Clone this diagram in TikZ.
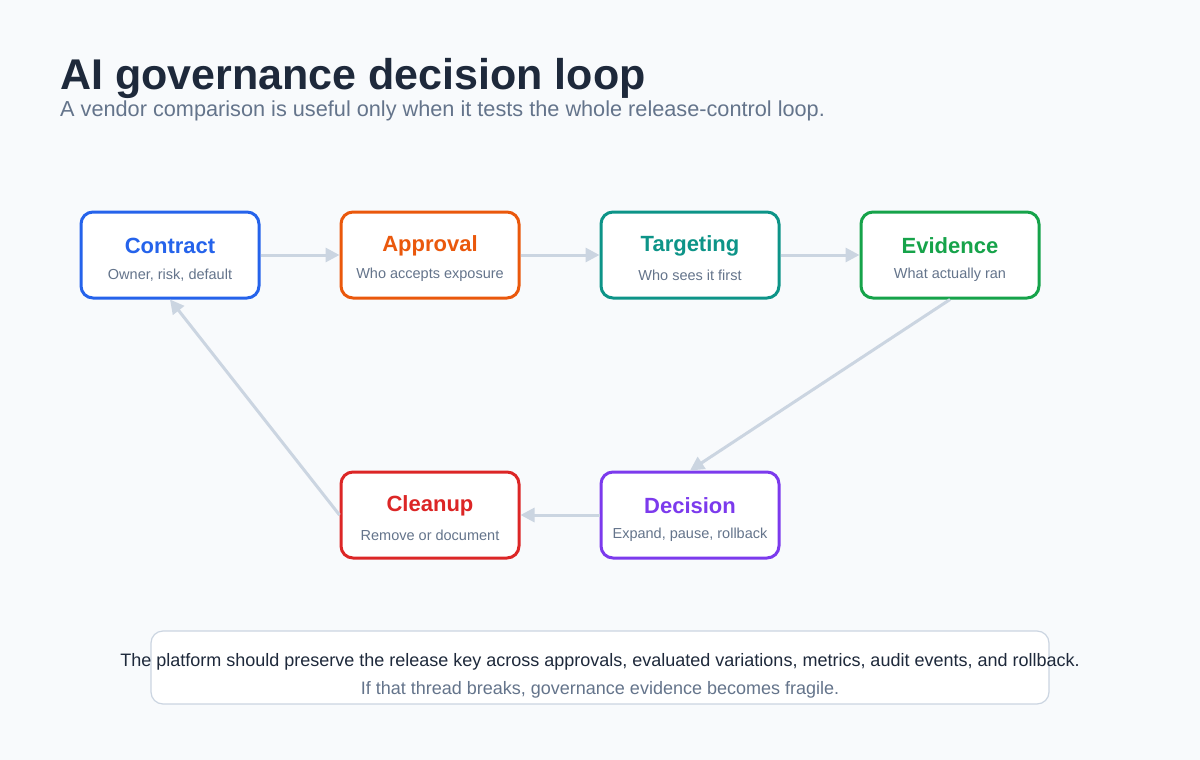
\documentclass[tikz,border=0pt]{standalone}
\usepackage{fontspec}
\setmainfont{Liberation Sans}
\usetikzlibrary{arrows.meta}
\definecolor{bgc}{HTML}{F8FAFC}
\definecolor{ink}{HTML}{1E293B}
\definecolor{muted}{HTML}{64748B}
\definecolor{edgec}{HTML}{CBD5E1}
\definecolor{cblue}{HTML}{2563EB}
\definecolor{corange}{HTML}{EA580C}
\definecolor{cteal}{HTML}{0D9488}
\definecolor{cgreen}{HTML}{16A34A}
\definecolor{cpurple}{HTML}{7C3AED}
\definecolor{cred}{HTML}{DC2626}
\tikzset{
  step/.style={rectangle, rounded corners=12pt, draw=#1, line width=3pt,
               fill=white, minimum width=178pt, minimum height=86pt},
  steptitle/.style={font=\fontsize{22}{26}\selectfont\bfseries},
  stepsub/.style={font=\fontsize{14.5}{17}\selectfont, text=muted},
  flow/.style={-{Triangle[length=14pt,width=14pt]}, draw=edgec, line width=3pt}
}
\begin{document}
\begin{tikzpicture}[x=1pt,y=-1pt]
      \fill[bgc] (0,0) rectangle (1200,760);
      \useasboundingbox (0,0) rectangle (1200,760);

      \node[anchor=base west, inner sep=0pt, text=ink, font=\fontsize{43}{50}\selectfont\bfseries] (title) at (60,89) {AI governance decision loop};
      \node[anchor=base west, inner sep=0pt, text=muted, font=\fontsize{21.7}{25}\selectfont] (subtitle) at (60,116) {A vendor comparison is useful only when it tests the whole release-control loop.};

      % steps
      \node[step=cblue] (contract) at (170,255) {};
      \node[step=corange] (approval) at (430,255) {};
      \node[step=cteal] (targeting) at (690,255) {};
      \node[step=cgreen] (evidence) at (950,255) {};
      \node[step=cpurple] (decision) at (690,515) {};
      \node[step=cred] (cleanup) at (430,515) {};

      \foreach \n/\c/\t/\s in {contract/cblue/Contract/{Owner, risk, default},
                               approval/corange/Approval/Who accepts exposure,
                               targeting/cteal/Targeting/Who sees it first,
                               evidence/cgreen/Evidence/What actually ran,
                               decision/cpurple/Decision/{Expand, pause, rollback},
                               cleanup/cred/Cleanup/Remove or document} {
        \node[steptitle, text=\c] at ([yshift=9pt]\n.center) {\t};
        \node[stepsub] at ([yshift=-20pt]\n.center) {\s};
      }

      \draw[flow] (contract.east) -- (approval.west);
      \draw[flow] (approval.east) -- (targeting.west);
      \draw[flow] (targeting.east) -- (evidence.west);
      \draw[flow] (evidence.south) -- (decision.north);
      \draw[flow] (decision.west) -- (cleanup.east);
      \draw[flow] (cleanup.west) -- (contract.south);

      % footer note
      \node[rectangle, rounded corners=12pt, draw=edgec, line width=1.2pt, fill=white,
            minimum width=898pt, minimum height=73pt] (note) at (600,667.5) {};
      \node[text=ink, font=\fontsize{18}{20}\selectfont] (line1) at (600,662) {The platform should preserve the release key across approvals, evaluated variations, metrics, audit events, and rollback.};
      \node[text=muted, font=\fontsize{18}{20}\selectfont] (line2) at (600,690) {If that thread breaks, governance evidence becomes fragile.};
\end{tikzpicture}
\end{document}
